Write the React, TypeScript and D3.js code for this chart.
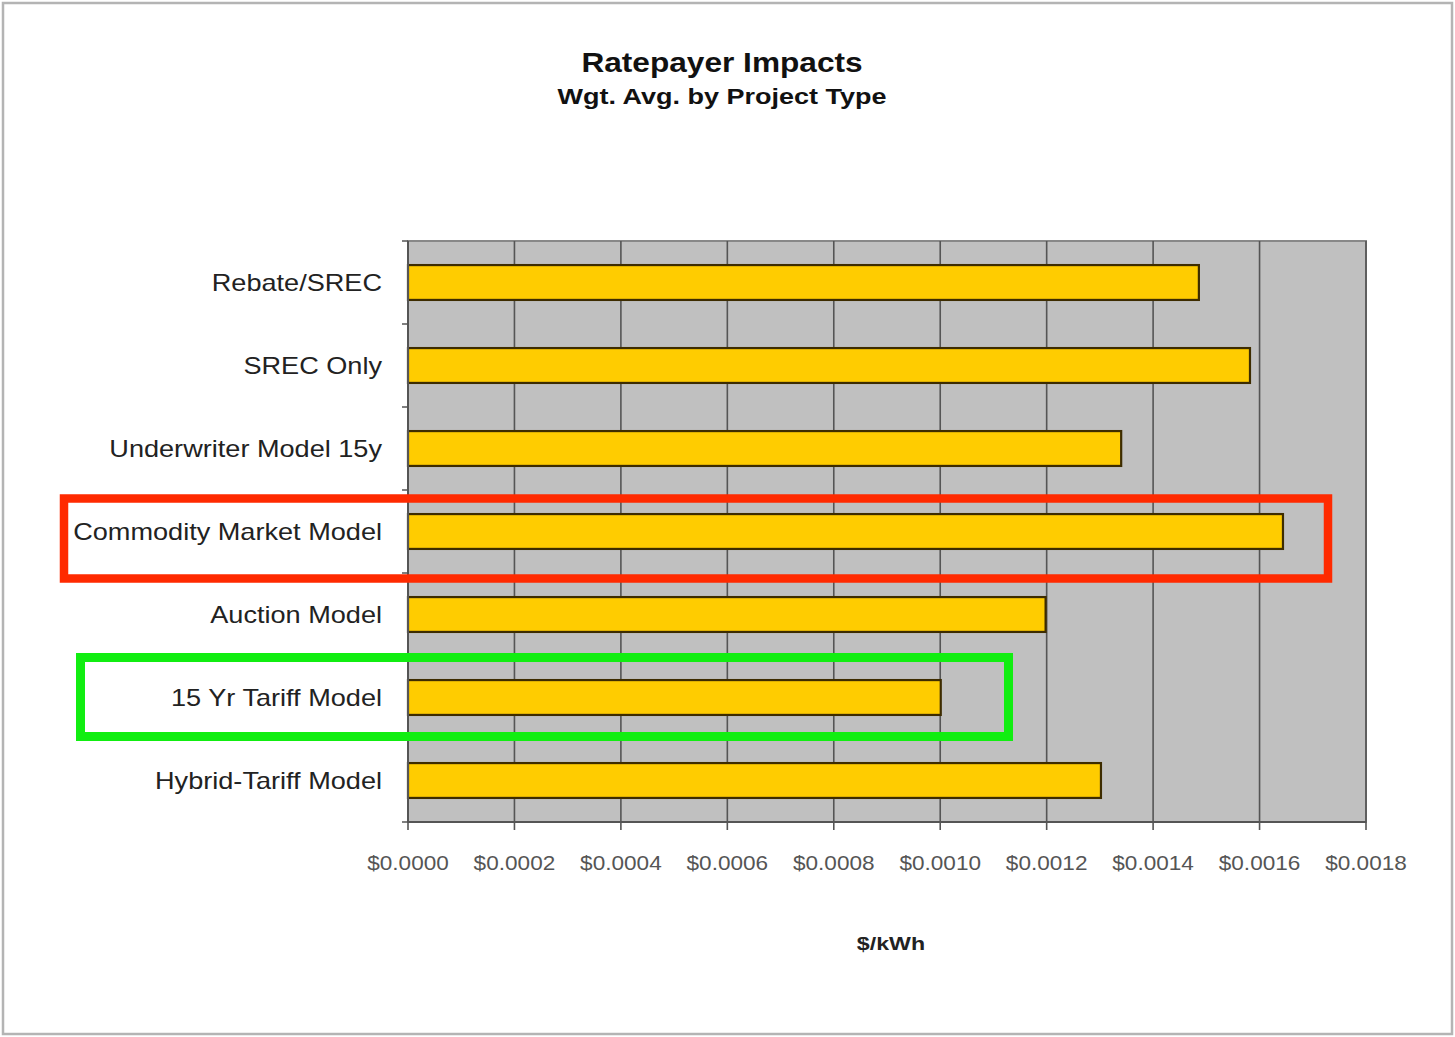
import React from "react";
import * as d3 from "d3";

const categories = [
  "Rebate/SREC",
  "SREC Only",
  "Underwriter Model 15y",
  "Commodity Market Model",
  "Auction Model",
  "15 Yr Tariff Model",
  "Hybrid-Tariff Model",
];
const values = [0.001486, 0.001582, 0.00134, 0.001644, 0.001198, 0.001001, 0.001302];
const xTicks = [0, 0.0002, 0.0004, 0.0006, 0.0008, 0.001, 0.0012, 0.0014, 0.0016, 0.0018];
const title = "Ratepayer Impacts";
const subtitle = "Wgt. Avg. by Project Type";
const axisTitle = "$/kWh";
const highlightRed = "Commodity Market Model";
const highlightGreen = "15 Yr Tariff Model";

const W = 1455;
const H = 1037;
const plot = { left: 408, top: 241, right: 1366, bottom: 822 };

export default function App() {
  const x = d3.scaleLinear().domain([0, 0.0018]).range([plot.left, plot.right]);
  const y = d3
    .scaleBand<string>()
    .domain(categories)
    .range([plot.top, plot.bottom])
    .paddingInner(0.58)
    .paddingOuter(0.29);
  const band = (plot.bottom - plot.top) / categories.length;
  const fmt = (v: number) => "$" + d3.format(".4f")(v);
  const font = "'Liberation Sans', Arial, sans-serif";

  const redY = (y(highlightRed) ?? 0) + y.bandwidth() / 2;
  const greenY = (y(highlightGreen) ?? 0) + y.bandwidth() / 2;

  const st = (tx: number, ty: number, sx: number) => `translate(${tx},${ty}) scale(${sx},1)`;

  return (
    <svg
      width={W}
      height={H}
      style={{ position: "absolute", left: 0, top: 0, background: "#fff" }}
      fontFamily={font}
    >
      <rect x={0} y={0} width={W} height={H} fill="#fff" />
      <rect x={3} y={3} width={W - 6} height={H - 6} fill="none" stroke="#b4b4b4" strokeWidth={2.5} />

      <text transform={st(722, 72, 1.13)} textAnchor="middle" fontSize={28} fontWeight="bold" fill="#111">
        {title}
      </text>
      <text transform={st(722, 104, 1.2)} textAnchor="middle" fontSize={22.5} fontWeight="bold" fill="#111">
        {subtitle}
      </text>

      <rect
        x={plot.left}
        y={plot.top}
        width={plot.right - plot.left}
        height={plot.bottom - plot.top}
        fill="#c0c0c0"
        stroke="#888"
        strokeWidth={2}
      />
      {xTicks.map((t) => (
        <line key={"g" + t} x1={x(t)} x2={x(t)} y1={plot.top} y2={plot.bottom} stroke="#555" strokeWidth={1.6} />
      ))}

      {categories.map((c, i) => (
        <rect
          key={c}
          x={x(0)}
          y={y(c)}
          width={x(values[i]) - x(0)}
          height={y.bandwidth()}
          fill="#ffcc00"
          stroke="#3d2c00"
          strokeWidth={2.2}
        />
      ))}

      {/* axes */}
      <line x1={plot.left} x2={plot.left} y1={plot.top} y2={plot.bottom} stroke="#555" strokeWidth={2} />
      <line x1={plot.left} x2={plot.right} y1={plot.bottom} y2={plot.bottom} stroke="#555" strokeWidth={2} />
      {d3.range(categories.length + 1).map((i) => (
        <line
          key={"yt" + i}
          x1={plot.left - 6}
          x2={plot.left}
          y1={plot.top + i * band}
          y2={plot.top + i * band}
          stroke="#555"
          strokeWidth={1.5}
        />
      ))}
      {xTicks.map((t) => (
        <line key={"xt" + t} x1={x(t)} x2={x(t)} y1={plot.bottom} y2={plot.bottom + 8} stroke="#555" strokeWidth={1.6} />
      ))}
      {xTicks.map((t) => (
        <text key={"xl" + t} transform={st(x(t), 870, 1.13)} textAnchor="middle" fontSize={20} fill="#555">
          {fmt(t)}
        </text>
      ))}
      {categories.map((c) => (
        <text
          key={"yl" + c}
          transform={st(382, (y(c) ?? 0) + y.bandwidth() / 2, 1.13)}
          dy="0.35em"
          textAnchor="end"
          fontSize={24}
          fill="#222"
        >
          {c}
        </text>
      ))}
      <text transform={st(891, 950, 1.22)} textAnchor="middle" fontSize={19} fontWeight="bold" fill="#222">
        {axisTitle}
      </text>

      {/* highlight boxes */}
      <rect x={64} y={redY - 33} width={1264} height={80} fill="none" stroke="#ff2a00" strokeWidth={8.5} />
      <rect x={80.5} y={greenY - 40} width={928} height={79} fill="none" stroke="#11ee11" strokeWidth={9} />
    </svg>
  );
}
